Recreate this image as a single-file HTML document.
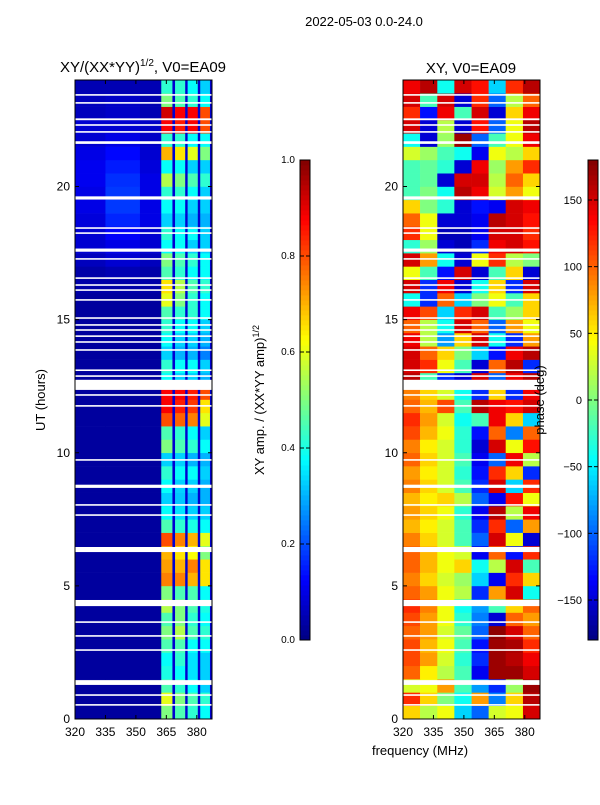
<!DOCTYPE html>
<html><head><meta charset="utf-8"><style>
body{margin:0;background:#fff;width:600px;height:800px;overflow:hidden;font-family:"Liberation Sans",sans-serif}
svg text{font-family:"Liberation Sans",sans-serif;fill:#000}
</style></head><body>
<svg id="fig" width="600" height="800" xmlns="http://www.w3.org/2000/svg">
<text x="364" y="26" font-size="13" text-anchor="middle">2022-05-03 0.0-24.0</text>
<text x="143" y="72" font-size="15" text-anchor="middle">XY/(XX*YY)<tspan font-size="10" dy="-6">1/2</tspan><tspan dy="6">, V0=EA09</tspan></text>
<text x="471" y="73" font-size="15" text-anchor="middle">XY, V0=EA09</text>
<text x="45" y="400" font-size="13" text-anchor="middle" transform="rotate(-90 45 400)">UT (hours)</text>
<text x="420" y="755" font-size="13" text-anchor="middle">frequency (MHz)</text>
<text x="264" y="400" font-size="13" text-anchor="middle" transform="rotate(-90 264 400)">XY amp. / (XX*YY amp)<tspan font-size="9" dy="-5">1/2</tspan></text>
<g id="left"></g><g id="right"></g><g id="cb"></g><g id="axes"></g>
<text x="544" y="400" font-size="13" text-anchor="middle" transform="rotate(-90 544 400)">phase (deg)</text>
</svg>
<script>
// ---- data ----
const hourTicks=[0,5,10,15,20];
const freqTicks=[320,335,350,365,380];
const ampTicks=[0.0,0.2,0.4,0.6,0.8,1.0];
const phaseTicks=[-150,-100,-50,0,50,100,150];
const gaps=[[0.5,0.56],[0.87,0.93],[1.28,1.46],[2.56,2.62],[3.09,3.15],[3.61,3.67],[4.24,4.47],[6.27,6.46],[7.63,7.69],[8.01,8.07],[8.68,8.8],[9.7,9.76],[11.73,11.79],[12.14,12.2],[12.36,12.74],[12.85,12.91],[13.07,13.13],[13.83,13.89],[14.13,14.19],[14.35,14.41],[14.58,14.64],[14.77,14.83],[15.03,15.09],[15.71,15.77],[16.08,16.14],[16.27,16.33],[16.53,16.59],[17.25,17.31],[17.55,17.67],[18.22,18.28],[18.41,18.47],[19.51,19.63],[21.6,21.7],[22.02,22.08],[22.28,22.34],[22.49,22.56],[23.11,23.17],[23.41,23.47]];
const ampBandEdges=[320,335,352,362.5,368,369.3,374.3,375.5,380.5,381.7,386.5,387.5];
const bgA=[.03,.03,.03,.03,.03,.03,.03,.03,.03,.03,.03,.03,.03,.03,.03,.03,.03,.03,.03,.03,.03,.03,.03,.03,.03,.03,.03,.03,.03,.03,.03,.03,.04,.04,.06,.08,.08,.09,.1,.1,.11,.11,.1,.08,.08,.06,.06,.05];
const bgB=[.03,.03,.03,.03,.03,.03,.03,.03,.03,.03,.03,.03,.03,.03,.03,.03,.03,.03,.03,.03,.03,.03,.03,.03,.03,.03,.03,.03,.03,.03,.03,.03,.04,.05,.08,.1,.12,.16,.18,.18,.17,.15,.13,.1,.08,.07,.07,.05];
const bgC=[.03,.03,.03,.03,.03,.03,.03,.03,.03,.03,.03,.03,.03,.03,.03,.03,.03,.03,.03,.03,.03,.03,.03,.03,.03,.03,.03,.03,.03,.03,.03,.03,.04,.04,.06,.08,.08,.1,.1,.1,.1,.09,.08,.07,.07,.05,.05,.05];
const colA=[.5,.6,.45,.4,.38,.45,.5,.45,.55,.5,.75,.72,.7,.8,.45,.38,.33,.38,.42,.33,.5,.45,.8,.88,.88,.38,.42,.33,.38,.42,.45,.6,.65,.45,.5,.38,.42,.33,.38,.42,.55,.38,.7,.42,.88,.92,.5,.42];
const colB=[.45,.5,.42,.38,.42,.45,.55,.5,.5,.45,.75,.7,.65,.75,.42,.35,.32,.33,.38,.33,.45,.42,.78,.85,.88,.33,.38,.3,.33,.38,.42,.5,.55,.42,.45,.38,.38,.33,.38,.42,.5,.38,.65,.42,.85,.88,.45,.42];
const colC=[.42,.45,.38,.35,.35,.38,.45,.42,.45,.45,.7,.75,.62,.7,.4,.33,.3,.33,.38,.3,.42,.38,.75,.82,.85,.33,.38,.3,.33,.38,.42,.42,.45,.38,.42,.33,.38,.3,.33,.38,.45,.33,.6,.38,.88,.88,.42,.38];
const colD=[.38,.42,.33,.33,.33,.38,.42,.38,.4,.38,.65,.65,.5,.6,.38,.33,.3,.3,.33,.3,.38,.33,.6,.65,.8,.3,.33,.25,.3,.33,.38,.38,.42,.38,.38,.33,.33,.3,.33,.33,.42,.33,.5,.38,.8,.8,.38,.33];
const phaseColEdges=[320,328.4,336.9,345.3,353.8,362.2,370.6,379.1,387.5];
const phaseRows=[
[60,20,40,-60,-100,30,40,150],[120,60,0,-40,80,-90,60,160],[30,40,80,-20,-80,-120,10,170],[100,50,20,-20,-140,170,170,150],
[110,80,30,-30,-120,170,160,140],[110,70,40,-20,-130,170,165,120],[100,80,30,-10,-100,175,150,100],[110,80,40,-30,-90,-150,100,80],
[120,90,40,-40,-80,-20,60,100],[100,80,40,20,-120,80,150,-40],[90,60,30,10,-60,-140,120,60],[100,70,40,60,-40,20,150,-20],
[100,70,40,30,-140,100,-130,120],[90,60,30,-20,-100,150,40,-150],[70,50,30,-20,-120,120,-100,80],[80,60,40,-30,-140,160,20,140],
[70,50,60,20,-100,-140,130,40],[90,60,30,-20,-120,150,-60,120],[80,50,30,-30,-130,120,60,-120],[100,60,30,-20,-140,-100,140,20],
[90,50,30,-30,-150,150,40,130],[110,70,40,-30,-130,100,-90,100],[120,80,30,-40,-20,140,60,-60],[100,70,110,-20,160,140,130,150],
[90,60,30,-40,-120,60,-120,140],[160,-20,-120,-150,150,-100,140,160],[150,120,40,-20,-150,100,160,-120],[150,100,60,0,-60,-130,140,160],
[140,20,-80,60,150,-40,-120,80],[100,20,-40,150,100,-100,80,40],[140,110,-60,120,150,-20,10,60],[-40,-120,100,-60,0,40,-20,60],
[150,-120,140,-150,-40,60,-120,150],[40,-20,-130,150,-150,-20,60,-150],[150,80,-40,-150,40,120,20,0],[-30,10,-150,-160,-120,140,150,130],
[120,40,-160,-160,-140,150,150,120],[100,40,-150,-150,-140,160,150,130],[60,0,-30,-150,-130,-140,150,140],[-20,0,-40,160,140,30,80,40],
[-20,-10,-150,150,150,20,100,60],[-20,-10,-30,-150,140,10,80,120],[30,10,-20,-40,-140,40,20,60],[-40,-150,10,170,-100,-20,40,140],
[150,-150,20,-150,130,-100,40,160],[120,-130,140,-20,150,-150,60,140],[150,-20,150,-150,120,-100,20,100],[140,160,-40,150,130,-60,120,160]];
// ---- axes ----
const NS="http://www.w3.org/2000/svg";
const Y0=719,Y1=80,H0=0,H1=24;
const yS=h=>Y0-(h-H0)/(H1-H0)*(Y0-Y1);
const xL=f=>75+(f-320)/67.5*137;
const xR=f=>403+(f-320)/67.5*137;
const cbY=(v,lo,hi)=>640-(v-lo)/(hi-lo)*480;
function jet(v){v=Math.max(0,Math.min(1,v));
 const r=Math.max(0,Math.min(1,1.5-Math.abs(4*v-3))),g=Math.max(0,Math.min(1,1.5-Math.abs(4*v-2))),b=Math.max(0,Math.min(1,1.5-Math.abs(4*v-1)));
 return `rgb(${Math.round(r*255)},${Math.round(g*255)},${Math.round(b*255)})`;}
function mk(tag,attrs,parent){const e=document.createElementNS(NS,tag);for(const k in attrs)e.setAttribute(k,attrs[k]);parent.appendChild(e);return e;}
const L=document.getElementById('left'),R=document.getElementById('right'),CB=document.getElementById('cb'),AX=document.getElementById('axes');
const ampCols=[bgA,bgB,bgC,colA,null,colB,null,colC,null,colD,null];
for(let r=0;r<48;r++){
 for(let c=0;c<ampCols.length;c++){
  const arr=ampCols[c];const v=arr?arr[r]:0.08;
  const x0=xL(ampBandEdges[c]),x1=xL(ampBandEdges[c+1]);
  const rc=mk('rect',{x:x0,y:yS((r+1)*0.5),width:x1-x0+0.3,height:yS(r*0.5)-yS((r+1)*0.5)+0.3,fill:jet(v)},L);
  
  
 }
 for(let c=0;c<8;c++){
  const v=phaseRows[r][c];
  const x0=xR(phaseColEdges[c]),x1=xR(phaseColEdges[c+1]);
  const rc=mk('rect',{x:x0,y:yS((r+1)*0.5),width:x1-x0+0.3,height:yS(r*0.5)-yS((r+1)*0.5)+0.3,fill:jet((v+180)/360)},R);
  
  
 }
}
for(const g of gaps){for(const [grp,x0] of [[L,75],[R,403]]){
 const rc=mk('rect',{x:x0,y:yS(g[1]),width:137,height:yS(g[0])-yS(g[1]),fill:'#fff'},grp);
 
 
}}
for(let i=0;i<96;i++){
 const v=i/96;
 const a=mk('rect',{x:300,y:640-(i+1)*5,width:10,height:5.4,fill:jet(v+1/192)},CB);
 
 
 const b=mk('rect',{x:588,y:640-(i+1)*5,width:10,height:5.4,fill:jet(v+1/192)},CB);
 
 
}
function frame(x,y,w,h,name){const f=mk('rect',{x:x,y:y,width:w,height:h,fill:'none',stroke:'#000','stroke-width':1},AX);
 
 }
frame(75,80,137,639,'left-plot-frame');frame(403,80,137,639,'right-plot-frame');
frame(300,160,10,480,'amp-colorbar');frame(588,160,10,480,'phase-colorbar');
function txt(x,y,s,anchor,name){const t=mk('text',{x:x,y:y,'font-size':12,'text-anchor':anchor},AX);t.textContent=s;
 
 }
for(const h of hourTicks){const y=yS(h);
 for(const x0 of [75,403]){mk('line',{x1:x0,x2:x0+4,y1:y,y2:y,stroke:'#000'},AX);mk('line',{x1:x0+137,x2:x0+133,y1:y,y2:y,stroke:'#000'},AX);
  txt(x0-5,y+4,String(h),'end','y-tick-label');}}
for(const f of freqTicks){for(const fn of [xL,xR]){const x=fn(f);
 mk('line',{x1:x,x2:x,y1:719,y2:715,stroke:'#000'},AX);mk('line',{x1:x,x2:x,y1:80,y2:84,stroke:'#000'},AX);
 txt(x,736,String(f),'middle','x-tick-label');}}
for(const v of ampTicks){const y=cbY(v,0,1);mk('line',{x1:300,x2:304,y1:y,y2:y,stroke:'#000'},AX);mk('line',{x1:310,x2:306,y1:y,y2:y,stroke:'#000'},AX);
 const t=mk('text',{x:295,y:y+3,'font-size':10,'text-anchor':'end'},AX);t.textContent=v.toFixed(1);
 
 }
for(const v of phaseTicks){const y=cbY(v,-180,180);mk('line',{x1:588,x2:592,y1:y,y2:y,stroke:'#000'},AX);mk('line',{x1:598,x2:594,y1:y,y2:y,stroke:'#000'},AX);
 const t=mk('text',{x:582,y:y+4,'font-size':11,'text-anchor':'end'},AX);t.textContent=v<0?'\u2212'+(-v):String(v);
 
 }
</script>
</body></html>
